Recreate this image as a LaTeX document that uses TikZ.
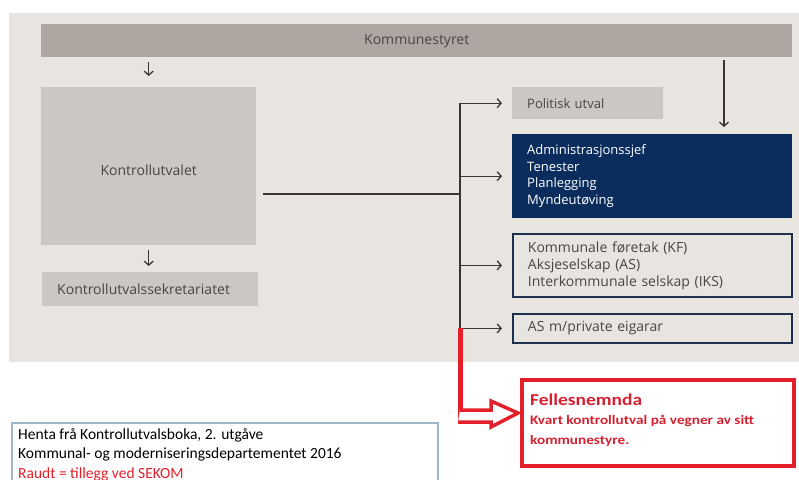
\documentclass[tikz,border=0pt]{standalone}
\usepackage{fontspec}
\setmainfont{Open Sans}
\newfontfamily\calfont{Carlito}
\newfontfamily\calwide[FakeStretch=1.17]{Carlito}
\usetikzlibrary{arrows.meta,calc}
\definecolor{bgc}{HTML}{E8E5E0}
\definecolor{barc}{HTML}{ADA6A1}
\definecolor{boxc}{HTML}{CBC7C4}
\definecolor{navyc}{HTML}{0A2D5E}
\definecolor{navyb}{HTML}{1E2F4F}
\definecolor{txtc}{HTML}{4A4544}
\definecolor{linec}{HTML}{3A3633}
\definecolor{redc}{HTML}{E3202A}
\definecolor{redt}{HTML}{D42030}
\definecolor{infob}{HTML}{9EB4C8}
\tikzset{
  box/.style={inner sep=0pt, anchor=north west, text=txtc, font=\fontsize{14}{17}\selectfont},
  lbox/.style={box, align=left, inner xsep=15pt},
  arr/.style={draw=linec, line width=1.3pt, -{Straight Barb[length=4pt,width=9pt]}},
  plain/.style={draw=linec, line width=1.3pt},
}
\begin{document}
\begin{tikzpicture}[x=1pt,y=-1pt]
\useasboundingbox (0,0) rectangle (799,479);
\fill[bgc] (9,13) rectangle (799,362);
% nodes
\node[box, fill=barc, minimum width=751pt, minimum height=33pt] (ks) at (41,24) {Kommunestyret};
\node[box, fill=boxc, minimum width=215pt, minimum height=158pt, text height=21pt, text depth=3pt] (kv) at (41,87) {Kontrollutvalet};
\node[lbox, fill=boxc, minimum height=34pt, text width=186pt] (sek) at (42,272) {Kontrollutvalssekretariatet};
\node[lbox, fill=boxc, minimum height=32pt, text width=121pt, font=\fontsize{13}{16.5}\selectfont] (pu) at (512,87) {Politisk utval};
\node[lbox, fill=navyc, text=white, minimum height=84pt, text width=250pt, font=\fontsize{13}{16.5}\selectfont] (ad) at (512,134) {Administrasjonssjef\\Tenester\\Planlegging\\Myndeutøving};
\node[lbox, draw=navyb, line width=1.8pt, fill=bgc, minimum height=63pt, text width=249pt] (kf) at (512,233) {Kommunale føretak (KF)\\Aksjeselskap (AS)\\Interkommunale selskap (IKS)};
\node[lbox, draw=navyb, line width=1.8pt, fill=bgc, minimum height=29pt, text width=249pt] (as) at (512,313) {AS m/private eigarar};
\node[inner sep=0pt, anchor=north west, draw=redc, line width=4pt, minimum width=272pt, minimum height=86pt] (fn) at (520,378) {};
\node[anchor=base west, inner sep=0pt, text=redt, align=left, font=\calwide\bfseries\fontsize{13}{19.5}\selectfont] (fnt) at (530,444)
  {{\fontsize{16.6}{19.5}\selectfont Fellesnemnda}\\
   Kvart kontrollutval på vegner av sitt\\
   kommunestyre.};
\draw[infob, line width=1.5pt] (12,423) rectangle (438,495);
\node[anchor=base west, inner sep=0pt, align=left, font=\calfont\fontsize{15.5}{19.5}\selectfont] (info) at (18,478)
  {Henta frå Kontrollutvalsboka, 2. utgåve\\Kommunal- og moderniseringsdepartementet 2016\\\textcolor{redc}{Raudt = tillegg ved SEKOM}};
% coordinates
\coordinate (trunk) at (460,194);
\coordinate (ka) at (724,57);
% connectors
\draw[arr, shorten <=5pt, shorten >=11pt] (kv.north |- ks.south) -- (kv.north);
\draw[arr, shorten <=5pt, shorten >=6pt] (kv.south) -- (kv.south |- sek.north);
\draw[arr, shorten <=3pt, shorten >=7pt] (ka) -- (ka |- ad.north);
\draw[plain, shorten <=7pt] (kv.east |- trunk) -- (trunk);
\draw[plain] (trunk |- pu.west) -- (trunk |- as.west);
\draw[arr, shorten >=10pt] (trunk |- pu.west) -- (pu.west);
\draw[arr, shorten >=10pt] (trunk |- ad.west) -- (ad.west);
\draw[arr, shorten >=10pt] (trunk |- kf.west) -- (kf.west);
\draw[arr, shorten >=10pt] (trunk |- as.west) -- (as.west);
% red connector
\draw[redc, line width=5pt] (trunk |- as.west) -- (460,422);
\draw[redc, line width=3.5pt, fill=white, line join=miter]
  (460,410) -- (491,410) -- (491,401) -- (518,413) -- (491,427) -- (491,422) -- (458,422);
\end{tikzpicture}
\end{document}
